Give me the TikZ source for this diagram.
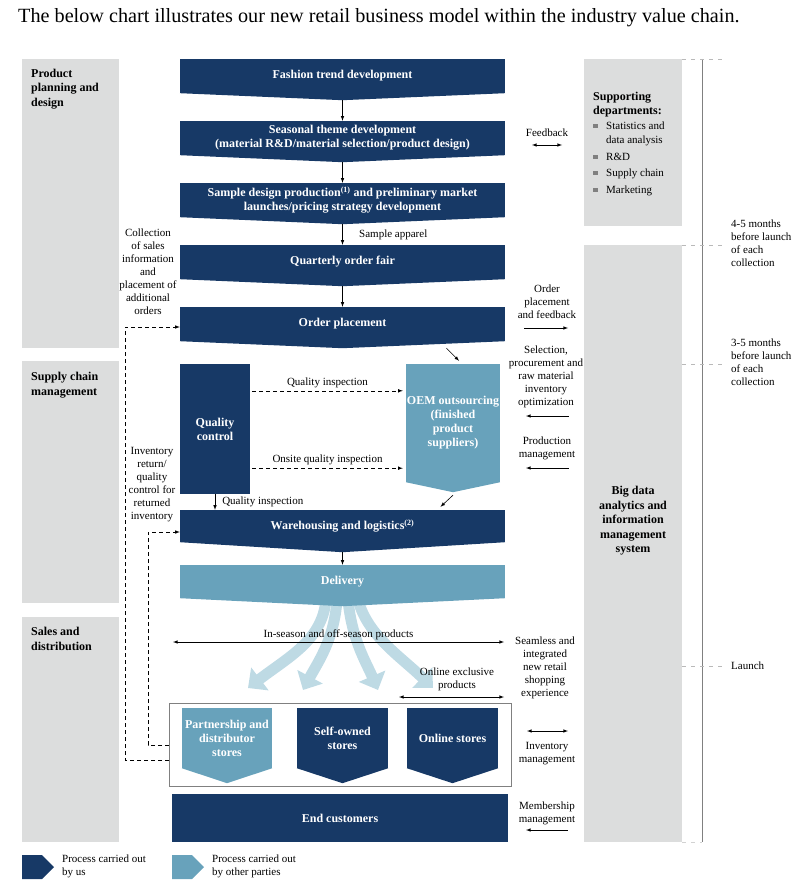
\documentclass[tikz,border=0pt]{standalone}
\usepackage{fontspec}
\setmainfont{Liberation Serif}
\usepackage{tikz}
\usetikzlibrary{arrows}
\usetikzlibrary{arrows.meta}

\definecolor{navy}{RGB}{23,57,102}
\definecolor{ltblue}{RGB}{104,162,187}
\definecolor{panelgray}{RGB}{220,221,221}
\definecolor{fanblue}{RGB}{190,218,228}
\definecolor{linegray}{RGB}{128,128,128}

\tikzset{
  dkbox/.style={fill=navy, text=white, font=\fontsize{12}{14}\selectfont\bfseries, align=center, inner sep=0pt},
  ltbox/.style={dkbox, fill=ltblue},
  panel/.style={fill=panelgray, inner sep=0pt, anchor=north west},
  hd/.style={font=\fontsize{12}{14.5}\selectfont\bfseries, inner sep=0pt},
  lbl/.style={font=\fontsize{11}{13}\selectfont, align=center, inner sep=0pt},
  dshline/.style={dash pattern=on 4pt off 3pt, line width=0.6pt},
  tickline/.style={gray!55, dash pattern=on 4pt off 5pt, line width=0.8pt},
  fan/.style={fanblue, line width=11pt, -{Triangle[length=15pt,width=28pt]}},
}

\begin{document}
\begin{tikzpicture}[x=1pt, y=-1pt, >=latex]
\useasboundingbox (0,0) rectangle (808,890);

\node[anchor=west, inner sep=0pt, font=\fontsize{20.2}{22}\selectfont] (title) at (18,18) {The below chart illustrates our new retail business model within the industry value chain.};

% grey panels
\node[panel, minimum width=97pt, minimum height=289pt] (plan) at (22,59) {};
\node[panel, minimum width=97pt, minimum height=242pt] (supply) at (22,361) {};
\node[panel, minimum width=97pt, minimum height=225pt] (sales) at (22,617) {};
\node[panel, minimum width=98pt, minimum height=167pt] (support) at (584,59) {};
\node[panel, minimum width=98pt, minimum height=597pt] (bigdata) at (584,245) {};

\node[hd, align=left, anchor=north west] (plan-t) at ([shift={(9pt,-9.5pt)}]plan.north west) {Product\\planning and\\design};
\node[hd, align=left, anchor=north west] (supply-t) at ([shift={(9pt,-11pt)}]supply.north west) {Supply chain\\management};
\node[hd, align=left, anchor=north west] (sales-t) at ([shift={(9pt,-10pt)}]sales.north west) {Sales and\\distribution};
\node[hd, align=left, anchor=north west, font=\fontsize{12}{13.5}\selectfont\bfseries] (support-t) at (593,92) {Supporting\\departments:};
\foreach \y in {126,157,173,190} % bullets
  \fill[linegray] (593,\y-2) rectangle ++(4.5,4.5);
\foreach \t/\y [count=\i] in {Statistics and/126, data analysis/140, R\&D/157, Supply chain/173, Marketing/190}
  \node[lbl, anchor=base west] (dept\i) at (606,\y+3.8) {\t};
\node[hd, align=center] (bigdata-t) at (633,521) {Big data\\analytics and\\information\\management\\system};

% time line on the right
\draw[linegray, line width=0.9pt] (702,59) -- (702,842);
\foreach \y in {59,245,364,666}
  \draw[tickline] (682,\y) -- (722,\y);
\draw[tickline, gray!35] (682,842) -- (702,842);
\node[lbl, align=left, anchor=north west] (t45) at (731,220) {4-5 months\\before launch\\of each\\collection};
\node[lbl, align=left, anchor=north west] (t35) at (731,339) {3-5 months\\before launch\\of each\\collection};
\node[lbl, anchor=west] (launch) at (731,666) {Launch};

% fan of products out of delivery
\coordinate (fan1) at (326,600); \coordinate (shop1) at (248,688);
\coordinate (fan2) at (337,600); \coordinate (shop2) at (303,690);
\coordinate (fan3) at (348,600); \coordinate (shop3) at (378,690);
\coordinate (fan4) at (358,600); \coordinate (shop4) at (433,688);
\draw[fan] (fan1) .. controls (322,640) and (290,656) .. (shop1);
\draw[fan] (fan2) .. controls (334,640) and (318,662) .. (shop2);
\draw[fan] (fan3) .. controls (352,640) and (366,662) .. (shop3);
\draw[fan] (fan4) .. controls (368,636) and (400,656) .. (shop4);

% main chain
\node[dkbox, minimum width=325pt, minimum height=34pt] (trend) at (342.5,76) {Fashion trend development};
\node[dkbox, minimum width=325pt, minimum height=34pt] (theme) at (342.5,138) {Seasonal theme development\\(material R\&D/material selection/product design)};
\node[dkbox, minimum width=325pt, minimum height=34pt] (sample) at (342.5,200) {Sample design production\textsuperscript{(1)} and preliminary market\\launches/pricing strategy development};
\node[dkbox, minimum width=325pt, minimum height=34pt] (fair) at (342.5,262) {Quarterly order fair};
\node[dkbox, minimum width=325pt, minimum height=34pt] (order) at (342.5,324) {Order placement};
\node[dkbox, minimum width=70pt, minimum height=130pt] (qc) at (215,429) {Quality\\control};
\node[ltbox, minimum width=94pt, minimum height=118pt] (oem) at (453,423) {OEM outsourcing\\(finished\\product\\suppliers)};
\node[dkbox, minimum width=325pt, minimum height=32pt] (wh) at (342.5,526) {Warehousing and logistics\textsuperscript{(2)}};
\node[ltbox, minimum width=325pt, minimum height=33pt] (delivery) at (342.5,581.5) {Delivery};

\node[draw=linegray, line width=0.8pt, minimum width=342pt, minimum height=83pt, anchor=north west, inner sep=0pt] (stores) at (169,703) {};
\node[ltbox, minimum width=90pt, minimum height=60pt] (partner) at (227,738) {Partnership and\\distributor\\stores};
\node[dkbox, minimum width=91pt, minimum height=60pt] (own) at (342.5,738) {Self-owned\\stores};
\node[dkbox, minimum width=91pt, minimum height=60pt] (online) at (452.5,738) {Online stores};
\node[dkbox, minimum width=336pt, minimum height=48pt] (cust) at (340,818) {End customers};

% pointed bottoms
\foreach \n/\d in {trend/7, theme/7, sample/7, fair/7, order/7, wh/10, own/15, online/15} {
  \fill[navy] (\n.south west) -- (\n.south east) -- ([yshift=-\d pt]\n.south) -- cycle;
  \coordinate (\n-tip) at ([yshift=-\d pt]\n.south);
}
\foreach \n/\d in {oem/10, delivery/8, partner/15} {
  \fill[ltblue] (\n.south west) -- (\n.south east) -- ([yshift=-\d pt]\n.south) -- cycle;
  \coordinate (\n-tip) at ([yshift=-\d pt]\n.south);
}

% arrows down the chain
\foreach \a/\b in {trend/theme, theme/sample, sample/fair, fair/order, wh/delivery}
  \draw[->, line width=0.6pt] (\a-tip) -- (\b);
\node[lbl, anchor=west] (apparel) at (359,235) {Sample apparel};
\draw[->, line width=0.6pt] ([shift={(104pt,-7pt)}]order.south) -- ([shift={(6pt,3pt)}]oem.north);
\draw[->, line width=0.6pt] ([yshift=-3pt]oem-tip) -- ([shift={(98pt,3pt)}]wh.north);

% quality control
\draw[dshline, ->] ([shift={(2pt,-27pt)}]qc.north east) -- ([shift={(-3pt,-27pt)}]qc.north east -| oem.west)
  node[lbl, midway, above=3pt] (qi1) {Quality inspection};
\draw[dshline, ->] ([shift={(2pt,26pt)}]qc.south east) -- ([shift={(-3pt,26pt)}]qc.south east -| oem.west)
  node[lbl, midway, above=3pt] (qi2) {Onsite quality inspection};
\draw[->, line width=0.6pt] (qc.south) -- (qc.south |- wh.north)
  node[lbl, midway, anchor=west, xshift=7pt] (qi3) {Quality inspection};

% feedback loops on the left
\draw[dshline, ->] ([yshift=-57pt]stores.north west) -- ++(-44pt,0pt) |- ([yshift=-3pt]order.west);
\draw[dshline, ->] ([yshift=-42pt]stores.north west) -- ++(-21pt,0pt) |- ([yshift=-6pt]wh.west);
\node[lbl] (collect) at (148,272) {Collection\\of sales\\information\\and\\placement of\\additional\\orders};
\node[lbl] (returns) at (152,484.5) {Inventory\\return/\\quality\\control for\\returned\\inventory};

% products to stores
\coordinate (ins-l) at (173,642); \coordinate (ins-r) at (504,642);
\draw[<->, line width=0.6pt] (ins-l) -- (ins-r) node[lbl, midway, above=2pt] (inseason) {In-season and off-season products};
\coordinate (oex-l) at (399,697); \coordinate (oex-r) at (504,697);
\draw[<->, line width=0.6pt] (oex-l) -- (oex-r);
\node[lbl] (oexcl) at (457,679.5) {Online exclusive\\products};

% labels between chain and big data
\node[lbl] (feedback) at (547,133) {Feedback};
\draw[<->, line width=0.6pt] ([shift={(-15pt,-12pt)}]feedback.center) -- ([shift={(15pt,-12pt)}]feedback.center);
\node[lbl] (opf) at (547,302) {Order\\placement\\and feedback};
\draw[->, line width=0.6pt] ([shift={(-23pt,-26pt)}]opf.center) -- ([shift={(21pt,-26pt)}]opf.center);
\node[lbl] (select) at (546,376.5) {Selection,\\procurement and\\raw material\\inventory\\optimization};
\draw[<-, line width=0.6pt] ([shift={(-20pt,-39.5pt)}]select.center) -- ([shift={(23pt,-39.5pt)}]select.center);
\node[lbl] (prodm) at (547,448) {Production\\management};
\draw[<-, line width=0.6pt] ([shift={(-21pt,-20pt)}]prodm.center) -- ([shift={(22pt,-20pt)}]prodm.center);
\node[lbl] (seamless) at (545,667.5) {Seamless and\\integrated\\new retail\\shopping\\experience};
\node[lbl] (invm) at (547,753.5) {Inventory\\management};
\draw[<->, line width=0.6pt] ([shift={(-20pt,22.5pt)}]invm.center) -- ([shift={(21pt,22.5pt)}]invm.center);
\node[lbl] (memb) at (547,813.5) {Membership\\management};
\draw[<-, line width=0.6pt] ([shift={(-21pt,-16.5pt)}]memb.center) -- ([shift={(21pt,-16.5pt)}]memb.center);

% legend
\fill[navy] (22,855) -- (42,855) -- (54,867) -- (42,879) -- (22,879) -- cycle;
\node[lbl, align=left, anchor=north west] (leg-us) at (62,855) {Process carried out\\by us};
\fill[ltblue] (172,855) -- (192,855) -- (204,867) -- (192,879) -- (172,879) -- cycle;
\node[lbl, align=left, anchor=north west] (leg-other) at (212,855) {Process carried out\\by other parties};
\end{tikzpicture}
\end{document}
